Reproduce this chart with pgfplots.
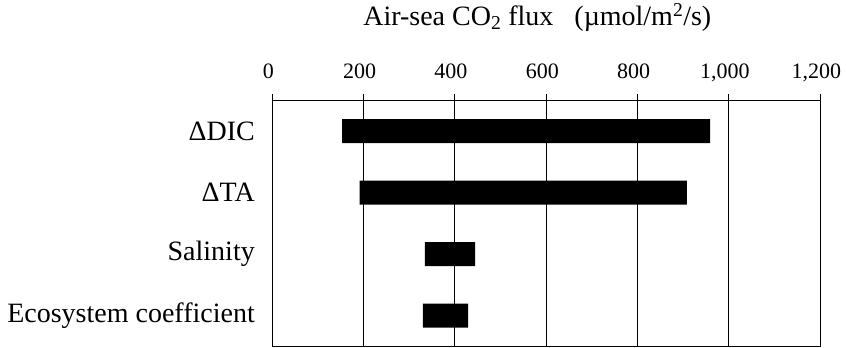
\documentclass[border=0pt]{standalone}
\usepackage{fontspec}
\setmainfont{Liberation Serif}
\usepackage{pgfplots}
\pgfplotsset{compat=1.18}
\newcommand\tl[1]{\fontsize{22bp}{26bp}\selectfont #1}
\begin{document}
\begin{tikzpicture}
\begin{axis}[
  scale only axis,
  width=548bp, height=246bp,
  xbar stacked,
  bar width=24bp,
  xmin=0, xmax=1200,
  xtick={0,200,400,600,800,1000,1200},
  xticklabels={\tl{0},\tl{200},\tl{400},\tl{600},\tl{800},\tl{1,000},\tl{1,200}},
  xtick pos=right,
  xticklabel pos=right,
  ymin=-0.5, ymax=3.5, y dir=reverse,
  ytick={0,1,2,3},
  yticklabels={ΔDIC,ΔTA,Salinity,Ecosystem coefficient},
  ytick style={draw=none},
  xmajorgrids,
  grid style={black, line width=1bp},
  axis line style={black, line width=1.2bp},
  tick style={black, line width=1bp},
  tick align=outside,
  major tick length=6bp,
  xticklabel style={font=\fontsize{22bp}{26bp}\selectfont, anchor=base, yshift=16bp, xshift=-4bp},
  yticklabel style={font=\fontsize{28bp}{33bp}\selectfont, xshift=-8bp},
  title={Air-sea CO\textsubscript{2} flux\hspace{0.75em}(µmol/m\textsuperscript{2}/s)},
  title style={font=\fontsize{28bp}{33bp}\selectfont, at={(0.5,1)}, anchor=base, yshift=69bp, xshift=-9bp},
]
\addplot[draw=none, fill=none] coordinates {(153,0) (191,1) (334,2) (330,3)};
\addplot[fill=black, draw=none] coordinates {(806,0) (717,1) (110,2) (99,3)};
\end{axis}
\path (current axis.south west) ++(-272.3bp,-1.7bp);
\path (current axis.north east) ++(25.7bp,97.3bp);
\end{tikzpicture}
\end{document}
